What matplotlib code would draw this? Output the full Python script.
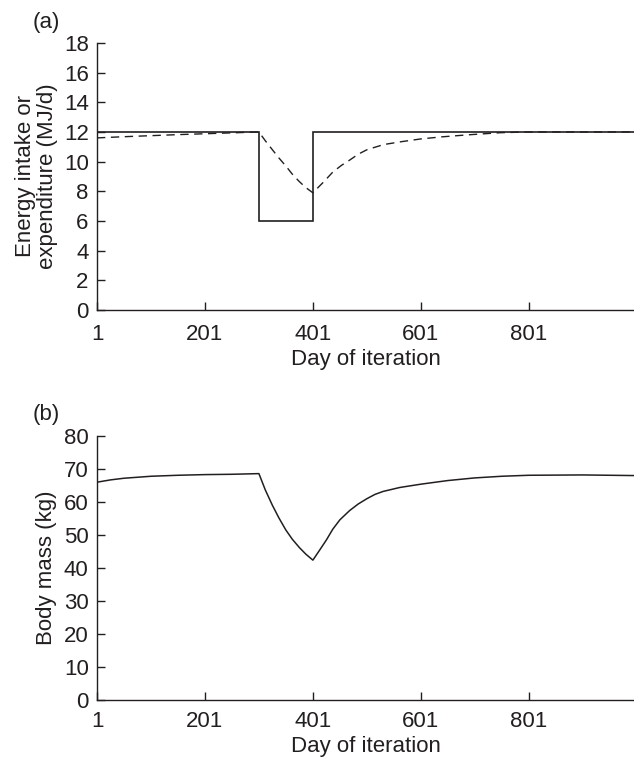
import numpy as np
import matplotlib
matplotlib.use("Agg")
import matplotlib.pyplot as plt

plt.rcParams['font.family'] = ['Liberation Sans', 'DejaVu Sans']

INK = '#231f20'
FS = 16

# (a) energy intake (solid, stepped) and expenditure (dashed)
intake_day = [1, 301, 301, 401, 401, 1000]
intake_mj = [12, 12, 6, 6, 12, 12]

exp_day = [1, 51, 101, 151, 201, 251, 301, 313, 326, 338, 351, 363, 376, 388, 401,
           420, 438, 454, 469, 485, 501, 532, 566, 601, 640, 686, 748, 800, 900, 1000]
exp_mj = [11.6, 11.68, 11.75, 11.82, 11.88, 11.94, 12.0, 11.4, 10.8, 10.25, 9.7, 9.15, 8.65, 8.25, 7.9,
          8.6, 9.3, 9.75, 10.1, 10.5, 10.8, 11.15, 11.35, 11.53, 11.67, 11.8, 11.95, 12.0, 12.0, 12.0]

# (b) body mass
mass_day = [1, 26, 51, 101, 151, 201, 251, 301, 313, 326, 338, 351, 363, 376, 388, 401,
            413, 426, 438, 451, 469, 485, 501, 516, 531, 562, 601, 651, 701, 751, 801, 901, 1000]
mass_kg = [66.0, 66.7, 67.2, 67.8, 68.1, 68.3, 68.4, 68.6, 63.6, 59.0, 55.2, 51.5, 48.7, 46.2, 44.2, 42.4,
           45.3, 48.5, 51.8, 54.6, 57.4, 59.4, 61.0, 62.3, 63.2, 64.4, 65.4, 66.5, 67.3, 67.8, 68.1, 68.2, 68.0]

xticks = [1, 201, 401, 601, 801]

fig = plt.figure(figsize=(6.34, 7.61), dpi=100)
ax1 = fig.add_axes([0.153, 0.5926, 0.847, 0.351])
ax2 = fig.add_axes([0.153, 0.0800, 0.847, 0.3471])


def style(ax, ymax, ystep, xpad):
    ax.set_xlim(1, 996)
    ax.set_ylim(0, ymax)
    ax.set_xticks(xticks)
    ax.set_xticklabels([str(t) for t in xticks])
    ax.set_yticks(np.arange(0, ymax + 1, ystep))
    for s in ('top', 'right'):
        ax.spines[s].set_visible(False)
    for s in ('left', 'bottom'):
        ax.spines[s].set_color(INK)
        ax.spines[s].set_linewidth(1.0)
    ax.tick_params(direction='in', length=6, width=1.0, colors=INK,
                   labelsize=FS, pad=6)
    ax.tick_params(axis='x', pad=xpad)
    ax.set_xlabel('Day of iteration', fontsize=FS, color=INK, labelpad=3)


ax1.plot(intake_day, intake_mj, color=INK, lw=1.2, solid_joinstyle='miter')
ax1.plot(exp_day, exp_mj, color=INK, lw=1.0, dashes=(6, 4))
style(ax1, 18, 2, 10)
ax1.set_ylabel('Energy intake or\nexpenditure (MJ/d)', fontsize=FS, color=INK,
               labelpad=4, linespacing=1.08)

ax2.plot(mass_day, mass_kg, color=INK, lw=1.1)
style(ax2, 80, 10, 8)
ax2.set_ylabel('Body mass (kg)', fontsize=FS, color=INK, labelpad=5)

fig.text(0.052, 0.970, '(a)', fontsize=FS, color=INK, va='center')
fig.text(0.052, 0.455, '(b)', fontsize=FS, color=INK, va='center')

fig.savefig('out.png', dpi=100)
